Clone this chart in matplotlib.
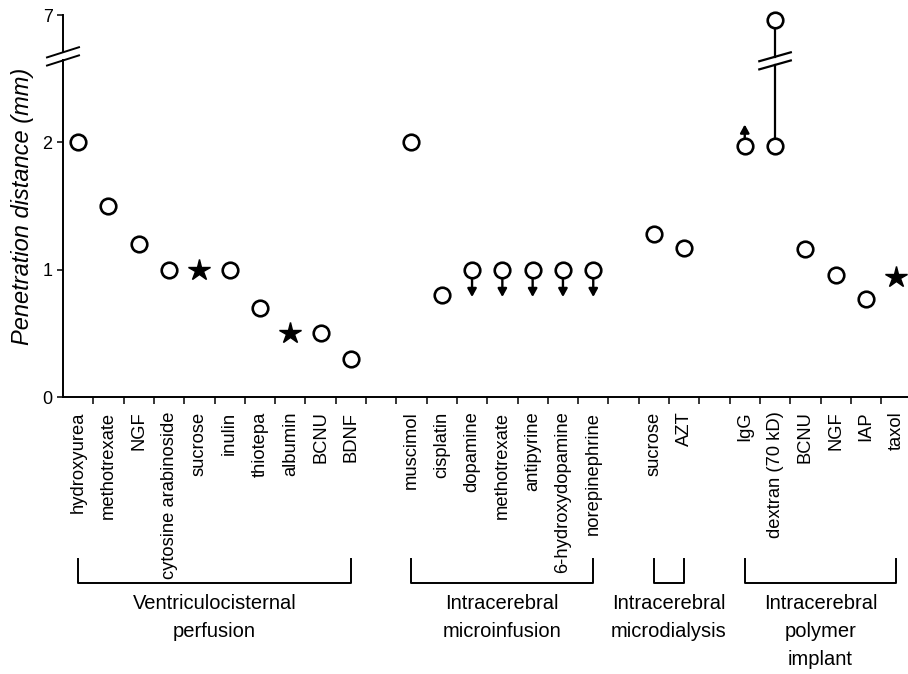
import numpy as np
import matplotlib
matplotlib.use("Agg")
import matplotlib.pyplot as plt

plt.rcParams["font.family"] = ["Liberation Sans", "DejaVu Sans"]

# Delivery method (group) labels
GROUPS = ["Ventriculocisternal\nperfusion",
          "Intracerebral\nmicroinfusion",
          "Intracerebral\nmicrodialysis",
          "Intracerebral\npolymer\nimplant"]

# One entry per agent
AGENTS = ["hydroxyurea", "methotrexate", "NGF", "cytosine arabinoside", "sucrose",
          "inulin", "thiotepa", "albumin", "BCNU", "BDNF",
          "muscimol", "cisplatin", "dopamine", "methotrexate", "antipyrine",
          "6-hydroxydopamine", "norepinephrine",
          "sucrose", "AZT",
          "IgG", "dextran (70 kD)", "BCNU", "NGF", "IAP", "taxol"]
GROUP_OF = [0] * 10 + [1] * 7 + [2] * 2 + [3] * 6
DISTANCE = [2.0, 1.5, 1.2, 1.0, 1.0, 1.0, 0.7, 0.5, 0.5, 0.3,
            2.0, 0.8, 1.0, 1.0, 1.0, 1.0, 1.0,
            1.28, 1.17,
            1.97, 1.97, 1.16, 0.96, 0.77, 0.94]
# upper end of a range (dextran 2 -> 7 mm)
DISTANCE_HIGH = [None] * 20 + [7.0] + [None] * 4
# "o" = open circle, "*" = star
SYMBOL = ["o", "o", "o", "o", "*", "o", "o", "*", "o", "o",
          "o", "o", "o", "o", "o", "o", "o",
          "o", "o",
          "o", "o", "o", "o", "o", "*"]
# -1 = upper bound (arrow down), +1 = lower bound (arrow up)
BOUND = [0] * 12 + [-1] * 5 + [0, 0] + [1] + [0] * 5

Y_TICKS = [0, 1, 2, 7]
BREAK_AT = 2.5      # values above are on the compressed segment
TOP_DISP = 3.0      # where 7 mm is drawn


def disp(v):
    return v if v <= BREAK_AT else TOP_DISP - 0.04 - (Y_TICKS[-1] - v) * 0.05


xpos = np.arange(len(AGENTS)) + np.array(GROUP_OF)

fig = plt.figure(figsize=(9.08, 6.74), dpi=100)
ax = fig.add_axes([63 / 908, 277 / 674, 845 / 908, 382 / 674])
ax.set_xlim(-0.5, -0.5 + 845 / 30.3)
ax.set_ylim(0, TOP_DISP)

MK = dict(marker="o", ms=11.2, mfc="white", mec="black", mew=1.9, ls="none",
          zorder=3, clip_on=False)

# arrows for bounded values
for x, v, b in zip(xpos, DISTANCE, BOUND):
    if b == 0:
        continue
    tip = disp(v) + (0.17 if b > 0 else -0.215)
    ax.annotate("", xy=(x, tip), xytext=(x, disp(v)),
                arrowprops=dict(arrowstyle="-|>,head_length=0.4,head_width=0.22",
                                mutation_scale=12, lw=1.7, color="black",
                                shrinkA=0, shrinkB=0), zorder=2)

# range line with a break
bc = 2.64
for x, v, hv in zip(xpos, DISTANCE, DISTANCE_HIGH):
    if hv is None:
        continue
    ax.plot([x, x], [disp(v), bc - 0.03], color="black", lw=1.6, zorder=2)
    ax.plot([x, x], [bc + 0.03, disp(hv)], color="black", lw=1.6, zorder=2)
    for off in (-0.032, 0.032):
        ax.plot([x - 0.52, x + 0.52], [bc + off - 0.035, bc + off + 0.035],
                color="black", lw=1.6, zorder=2)
    ax.plot([x], [disp(hv)], **MK)

for x, v, s in zip(xpos, DISTANCE, SYMBOL):
    if s == "o":
        ax.plot([x], [disp(v)], **MK)
    else:
        ax.plot([x], [disp(v)], marker="*", ms=16, mfc="black", mec="black",
                ls="none", zorder=3, clip_on=False)

# axes look
for s in ("top", "right", "left"):
    ax.spines[s].set_visible(False)
ax.spines["bottom"].set_linewidth(1.4)

# y axis drawn by hand with a break
ytr = ax.get_yaxis_transform()
ybc = 2.675
ax.plot([0, 0], [0, ybc - 0.032], color="black", lw=1.4, transform=ytr, clip_on=False)
ax.plot([0, 0], [ybc + 0.032, TOP_DISP], color="black", lw=1.4, transform=ytr, clip_on=False)
hw = 16 / 845
for off in (-0.032, 0.032):
    ax.plot([-hw, hw], [ybc + off - 0.04, ybc + off + 0.04], color="black", lw=1.4,
            transform=ytr, clip_on=False)

ax.set_yticks([0, 1, 2, TOP_DISP], [str(v) for v in Y_TICKS])
ax.tick_params(axis="y", direction="out", length=4.5, width=1.1, pad=3, labelsize=13)

# boundary ticks between slots, labels on slot centres
ax.set_xticks(np.arange(int(xpos[-1])) + 0.5)
ax.set_xticklabels([])
ax.set_xticks(xpos, AGENTS, minor=True, rotation=90)
ax.tick_params(axis="x", which="major", direction="out", length=5, width=1.1)
ax.tick_params(axis="x", which="minor", length=0, pad=10.5, labelsize=13.2)

ax.set_ylabel("Penetration distance (mm)", fontsize=17, style="italic")
ax.yaxis.set_label_coords(-0.0485, 0.5)
ax.yaxis.label.set_va("center")

# group brackets and captions
xtr = ax.get_xaxis_transform()
gidx = np.array(GROUP_OF)
for g, name in enumerate(GROUPS):
    xs = xpos[gidx == g]
    x0, x1 = xs.min(), xs.max()
    ax.plot([x0, x0, x1, x1], [-0.423, -0.487, -0.487, -0.423], color="black", lw=1.4,
            transform=xtr, clip_on=False)
    ax.text((x0 + x1) / 2, -0.515, name, transform=xtr, ha="center", va="top",
            fontsize=14.5, linespacing=1.6)

fig.savefig("out.png", dpi=100, facecolor="white")
